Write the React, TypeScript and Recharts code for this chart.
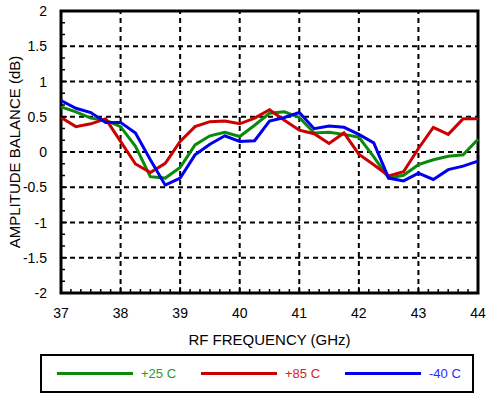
import React from "react";
import {
  LineChart,
  Line,
  XAxis,
  YAxis,
  ReferenceLine,
  ReferenceArea,
  Label,
} from "recharts";

const freqs = [
  37, 37.25, 37.5, 37.75, 38, 38.25, 38.5, 38.75, 39, 39.25, 39.5, 39.75, 40,
  40.25, 40.5, 40.75, 41, 41.25, 41.5, 41.75, 42, 42.25, 42.5, 42.75, 43,
  43.25, 43.5, 43.75, 44,
];

const t25 = [
  0.64, 0.57, 0.48, 0.45, 0.36, 0.08, -0.35, -0.37, -0.22, 0.1, 0.23, 0.28,
  0.22, 0.38, 0.55, 0.57, 0.49, 0.27, 0.28, 0.25, 0.21, -0.07, -0.37, -0.33,
  -0.18, -0.11, -0.06, -0.04, 0.18,
];

const t85 = [
  0.49, 0.36, 0.4, 0.47, 0.15, -0.17, -0.29, -0.16, 0.15, 0.36, 0.43, 0.44,
  0.4, 0.48, 0.6, 0.45, 0.31, 0.26, 0.12, 0.27, -0.03, -0.18, -0.34, -0.28,
  0.05, 0.35, 0.25, 0.47, 0.47,
];

const tm40 = [
  0.73, 0.62, 0.56, 0.42, 0.42, 0.27, -0.11, -0.47, -0.37, -0.04, 0.11, 0.23,
  0.15, 0.16, 0.44, 0.49, 0.56, 0.33, 0.37, 0.35, 0.25, 0.13, -0.37, -0.41,
  -0.3, -0.39, -0.25, -0.2, -0.13,
];

const xTicks = [37, 38, 39, 40, 41, 42, 43, 44];
const yTicks = [-2, -1.5, -1, -0.5, 0, 0.5, 1, 1.5, 2];

const series = [
  { key: "t25", name: "+25 C", color: "#0a8a0a", text: "#2a9a2a" },
  { key: "t85", name: "+85 C", color: "#cc0000", text: "#e02020" },
  { key: "tm40", name: "-40 C", color: "#0000ee", text: "#2a2aff" },
];

const data = freqs.map((f, i) => ({
  freq: f,
  t25: t25[i],
  t85: t85[i],
  tm40: tm40[i],
}));

// minor ticks between the labelled ones
const subdivide = (ticks: number[], n: number) => {
  const out: number[] = [];
  for (let i = 0; i < ticks.length - 1; i++) {
    const step = (ticks[i + 1] - ticks[i]) / n;
    for (let k = 0; k < n; k++) out.push(ticks[i] + step * k);
  }
  out.push(ticks[ticks.length - 1]);
  return out;
};

const xAll = subdivide(xTicks, 6);
const yAll = subdivide(yTicks, 3);

const isMajor = (v: number, list: number[]) =>
  list.some((t) => Math.abs(t - v) < 1e-6);

const FONT = "'Liberation Sans', Arial, Helvetica, sans-serif";

const XTick = (props: any) => {
  const { x, y, payload } = props;
  const major = isMajor(payload.value, xTicks);
  return (
    <g>
      <line x1={x} x2={x} y1={y} y2={y - (major ? 6 : 4)} stroke="#000" strokeWidth={1.5} />
      {major && (
        <text x={x} y={y + 25} textAnchor="middle" fontSize={14} fill="#000" fontFamily={FONT}>
          {payload.value}
        </text>
      )}
    </g>
  );
};

const YTick = (props: any) => {
  const { x, y, payload } = props;
  const major = isMajor(payload.value, yTicks);
  return (
    <g>
      <line x1={x} x2={x + (major ? 6 : 4)} y1={y} y2={y} stroke="#000" strokeWidth={1.5} />
      {major && (
        <text x={x - 14} y={y + 5} textAnchor="end" fontSize={14} fill="#000" fontFamily={FONT}>
          {String(payload.value)}
        </text>
      )}
    </g>
  );
};

export default function App() {
  return (
    <div
      style={{
        position: "absolute",
        left: 0,
        top: 0,
        width: 486,
        height: 394,
        background: "#fff",
        fontFamily: FONT,
      }}
    >
      <LineChart
        width={486}
        height={350}
        data={data}
        margin={{ top: 11, right: 8, left: 0, bottom: 0 }}
      >
        <XAxis
          dataKey="freq"
          type="number"
          domain={[37, 44]}
          ticks={xAll}
          interval={0}
          tick={<XTick />}
          tickSize={0}
          tickMargin={0}
          axisLine={false}
          height={57}
        >
          <Label
            value="RF FREQUENCY (GHz)"
            position="insideBottom"
            offset={5}
            style={{ fontSize: 15, fill: "#000", fontFamily: FONT }}
          />
        </XAxis>
        <YAxis
          type="number"
          domain={[-2, 2]}
          ticks={yAll}
          interval={0}
          tick={<YTick />}
          tickSize={0}
          tickMargin={0}
          axisLine={false}
          width={61}
        >
          <Label
            content={(p: any) => {
              const vb = p.viewBox;
              const cy = vb.y + vb.height / 2;
              const cx = 14;
              return (
                <text
                  x={cx}
                  y={cy}
                  transform={`rotate(-90 ${cx} ${cy})`}
                  textAnchor="middle"
                  dominantBaseline="central"
                  fontSize={15}
                  fill="#000"
                  fontFamily={FONT}
                >
                  AMPLITUDE BALANCE (dB)
                </text>
              );
            }}
          />
        </YAxis>
        {xTicks.slice(1, -1).map((t) => (
          <ReferenceLine key={"vx" + t} x={t} stroke="#000" strokeWidth={2} strokeDasharray="5 4" />
        ))}
        {yTicks.slice(1, -1).map((t) => (
          <ReferenceLine key={"hy" + t} y={t} stroke="#000" strokeWidth={2} strokeDasharray="5 4" />
        ))}
        {series.map((s) => (
          <Line
            key={s.key}
            dataKey={s.key}
            name={s.name}
            stroke={s.color}
            strokeWidth={3}
            dot={false}
            type="linear"
            isAnimationActive={false}
          />
        ))}
        <ReferenceArea
          x1={37}
          x2={44}
          y1={-2}
          y2={2}
          fill="none"
          fillOpacity={0}
          stroke="#000"
          strokeWidth={3}
          ifOverflow="visible"
        />
      </LineChart>
      <div
        style={{
          position: "absolute",
          left: 40,
          top: 354,
          width: 430,
          height: 35,
          border: "2px solid #000",
        }}
      >
        {series.map((s, i) => (
          <div
            key={s.key}
            style={{
              position: "absolute",
              left: 15 + i * 144,
              top: 9,
              display: "flex",
              alignItems: "center",
              height: 16,
            }}
          >
            <div style={{ width: 76, height: 3, background: s.color }} />
            <span style={{ marginLeft: 8, fontSize: 13, color: s.text }}>{s.name}</span>
          </div>
        ))}
      </div>
    </div>
  );
}
